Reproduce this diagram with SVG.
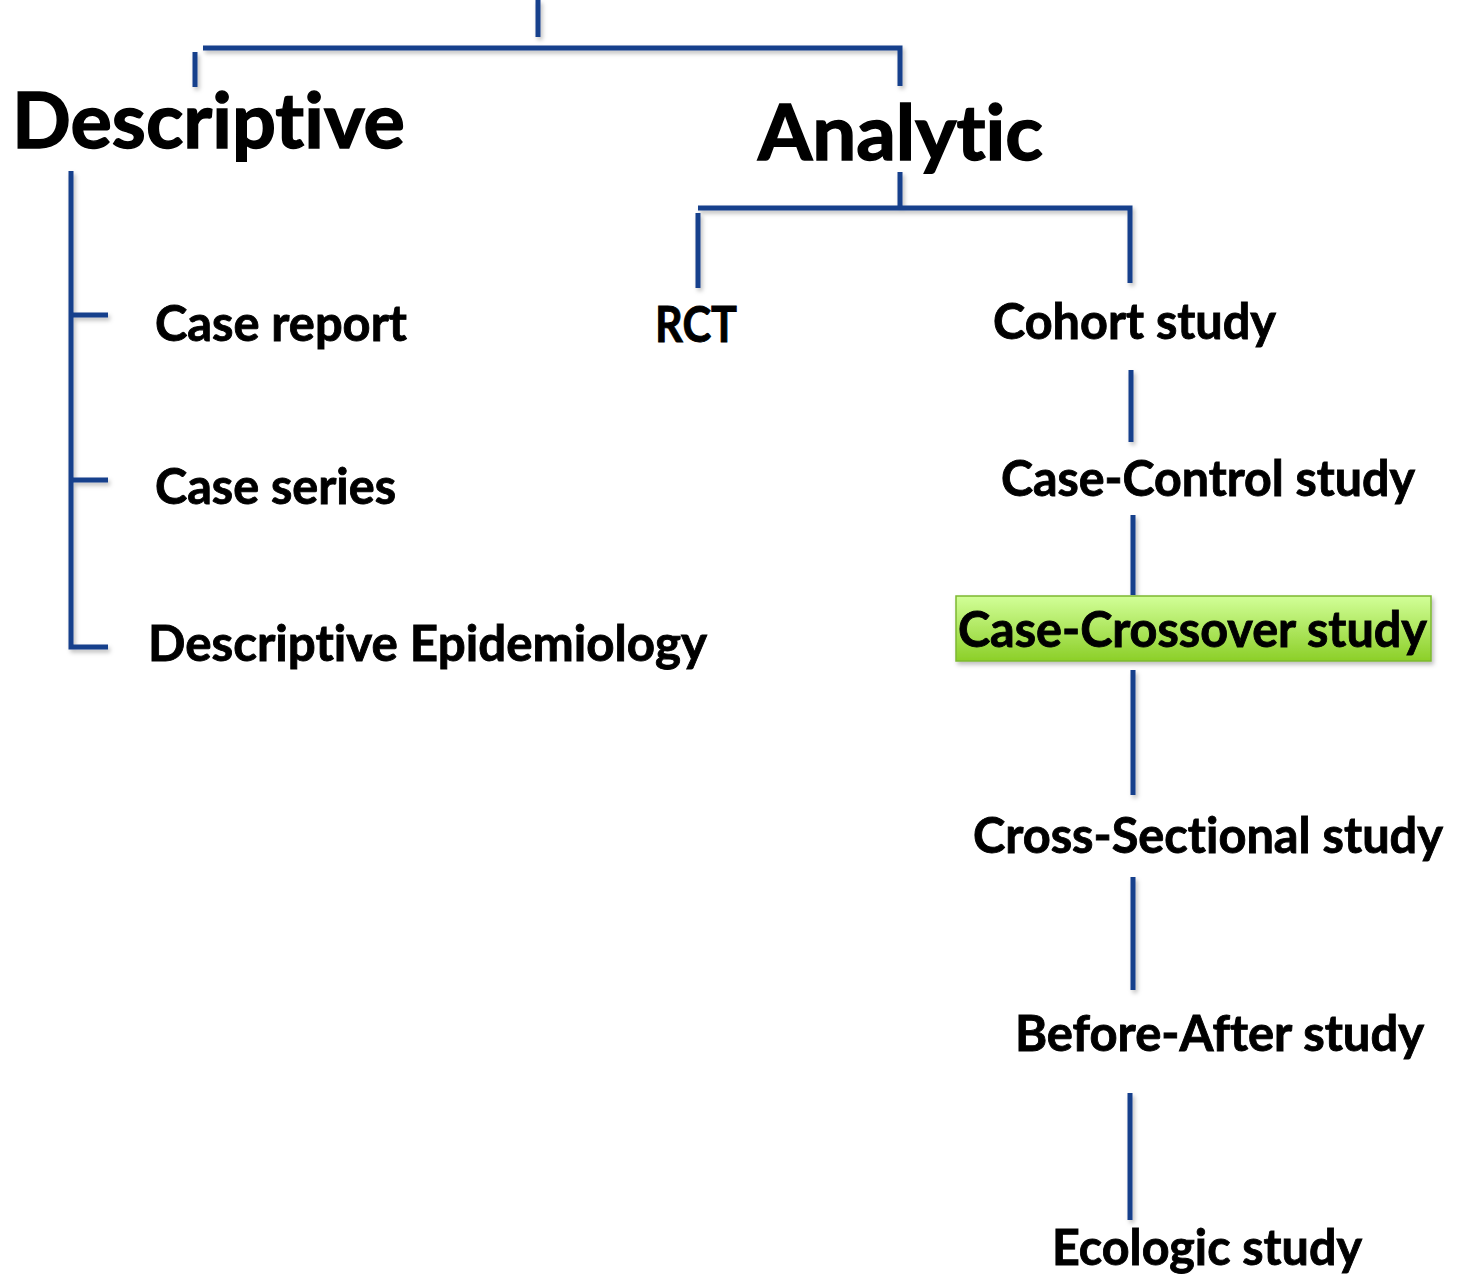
<svg xmlns="http://www.w3.org/2000/svg" width="1460" height="1274" viewBox="0 0 1460 1274">
<style>
.ln{stroke:#163f8c;stroke-width:5;fill:none;stroke-linecap:butt}
.t{font-family:Lato,"Open Sans","Liberation Sans",sans-serif;font-weight:bold;fill:#000;stroke:#000;font-variant-ligatures:none;font-feature-settings:"liga" 0,"clig" 0,"dlig" 0}
.big{font-size:76px;stroke-width:1.4}
.mid{font-size:50px;stroke-width:0.9}
</style>
<defs>
<filter id="sh" x="-20%" y="-20%" width="140%" height="140%">
<feDropShadow dx="2" dy="3" stdDeviation="2" flood-color="#000" flood-opacity="0.25"/>
</filter>
<linearGradient id="g" x1="0" y1="0" x2="0" y2="1">
<stop offset="0" stop-color="#d2ff98"/>
<stop offset="1" stop-color="#8ccf28"/>
</linearGradient>
</defs>
<g id="connectors" filter="url(#sh)">
<path class="ln" d="M538 0V37"/>
<path class="ln" d="M203 48H900V86"/>
<path class="ln" d="M195 52V87"/>
<path class="ln" d="M71 171V647H108M71 315H108M71 480H108"/>
<path class="ln" d="M900 172V208M698 208H1130V283M698 213V288"/>
<path class="ln" d="M1131 370V442"/>
<path class="ln" d="M1133 515V595"/>
<path class="ln" d="M1133 670V795"/>
<path class="ln" d="M1133 877V990"/>
<path class="ln" d="M1130 1093V1220"/>
</g>
<g id="descriptive"><text class="t big" x="12" y="148" textLength="393" lengthAdjust="spacingAndGlyphs">Descriptive</text></g>
<g id="analytic"><text class="t big" x="758" y="160" textLength="285" lengthAdjust="spacingAndGlyphs">Analytic</text></g>
<g id="case-report"><text class="t mid" x="155" y="341" textLength="252" lengthAdjust="spacingAndGlyphs">Case report</text></g>
<g id="case-series"><text class="t mid" x="155" y="504" textLength="241" lengthAdjust="spacingAndGlyphs">Case series</text></g>
<g id="descriptive-epidemiology"><text class="t mid" x="148" y="661" textLength="559" lengthAdjust="spacingAndGlyphs">Descriptive Epidemiology</text></g>
<g id="rct"><text class="t mid" x="655" y="342" textLength="82" lengthAdjust="spacingAndGlyphs">RCT</text></g>
<g id="cohort"><text class="t mid" x="993" y="339" textLength="283" lengthAdjust="spacingAndGlyphs">Cohort study</text></g>
<g id="case-control"><text class="t mid" x="1001" y="496" textLength="414" lengthAdjust="spacingAndGlyphs">Case-Control study</text></g>
<g id="case-crossover">
<rect x="956" y="596" width="475" height="65" fill="url(#g)" stroke="#7db832" stroke-width="1.5" filter="url(#sh)"/>
<text class="t mid" x="958" y="647" textLength="469" lengthAdjust="spacingAndGlyphs">Case-Crossover study</text>
</g>
<g id="cross-sectional"><text class="t mid" x="973" y="853" textLength="470" lengthAdjust="spacingAndGlyphs">Cross-Sectional study</text></g>
<g id="before-after"><text class="t mid" x="1015" y="1051" textLength="409" lengthAdjust="spacingAndGlyphs">Before-After study</text></g>
<g id="ecologic"><text class="t mid" x="1052" y="1265" textLength="310" lengthAdjust="spacingAndGlyphs">Ecologic study</text></g>
</svg>
